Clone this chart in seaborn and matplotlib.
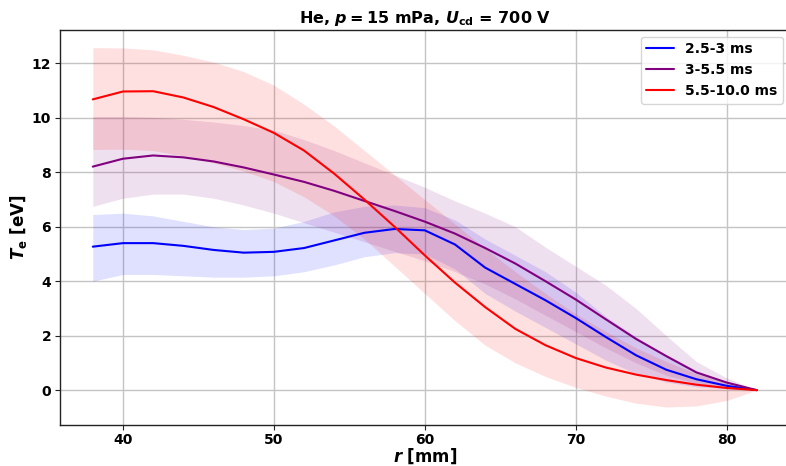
import numpy as np
import pandas as pd
import matplotlib
matplotlib.use("Agg")
import matplotlib.pyplot as plt
import seaborn as sns

r_mm = [38, 40, 42, 44, 46, 48, 50, 52, 54, 56, 58, 60, 62, 64, 66, 68, 70, 72, 74, 76, 78, 80, 82]

blue_mean = [5.27, 5.40, 5.40, 5.30, 5.15, 5.05, 5.08, 5.22, 5.50, 5.78, 5.92, 5.87, 5.35, 4.50, 3.90, 3.30, 2.65, 1.95, 1.28, 0.75, 0.40, 0.16, 0.0]
blue_upper = [6.45, 6.50, 6.40, 6.20, 6.00, 5.90, 5.95, 6.20, 6.55, 6.75, 6.80, 6.70, 6.25, 5.55, 4.95, 4.35, 3.60, 2.70, 1.95, 1.30, 0.72, 0.30, 0.0]
blue_lower = [4.00, 4.25, 4.25, 4.20, 4.15, 4.15, 4.20, 4.35, 4.60, 4.90, 5.05, 5.00, 4.45, 3.55, 2.90, 2.30, 1.70, 1.10, 0.60, 0.30, 0.12, 0.05, 0.0]

purple_mean = [8.21, 8.50, 8.62, 8.55, 8.40, 8.18, 7.92, 7.65, 7.32, 6.95, 6.58, 6.19, 5.75, 5.22, 4.65, 4.00, 3.33, 2.60, 1.88, 1.25, 0.65, 0.28, 0.0]
purple_upper = [10.05, 10.05, 10.02, 9.95, 9.85, 9.72, 9.55, 9.20, 8.80, 8.35, 7.90, 7.45, 6.95, 6.50, 6.00, 5.25, 4.55, 3.85, 3.00, 2.00, 1.05, 0.45, 0.0]
purple_lower = [6.75, 7.05, 7.20, 7.20, 7.05, 6.80, 6.50, 6.15, 5.80, 5.45, 5.10, 4.75, 4.35, 3.90, 3.35, 2.75, 2.15, 1.55, 1.00, 0.55, 0.25, 0.08, 0.0]

red_mean = [10.68, 10.97, 10.98, 10.75, 10.40, 9.95, 9.45, 8.80, 7.95, 7.00, 6.00, 4.95, 3.95, 3.05, 2.25, 1.65, 1.18, 0.83, 0.57, 0.37, 0.20, 0.08, 0.0]
red_upper = [12.58, 12.57, 12.50, 12.30, 12.05, 11.70, 11.20, 10.50, 9.70, 8.80, 7.90, 7.00, 6.10, 5.20, 4.35, 3.55, 2.80, 2.15, 1.55, 1.05, 0.60, 0.25, 0.0]
red_lower = [8.84, 8.85, 8.80, 8.60, 8.35, 8.05, 7.66, 7.10, 6.40, 5.55, 4.55, 3.55, 2.55, 1.65, 1.00, 0.50, 0.10, -0.22, -0.48, -0.62, -0.58, -0.38, 0.0]

labels = ["2.5-3 ms", "3-5.5 ms", "5.5-10.0 ms"]
colors = ["blue", "purple", "red"]

sns.set_style("ticks")
plt.rcParams["font.family"] = ["DejaVu Sans"]
plt.rcParams["font.weight"] = "bold"
plt.rcParams["text.color"] = "black"
plt.rcParams["axes.labelcolor"] = "black"
plt.rcParams["xtick.color"] = "black"
plt.rcParams["ytick.color"] = "black"
plt.rcParams["mathtext.fontset"] = "custom"
plt.rcParams["mathtext.rm"] = "DejaVu Sans:bold"
plt.rcParams["mathtext.it"] = "DejaVu Sans:italic:bold"
plt.rcParams["mathtext.bf"] = "DejaVu Sans:bold"

frames = []
for lab, m in zip(labels, [blue_mean, purple_mean, red_mean]):
    frames.append(pd.DataFrame({"r": r_mm, "Te": m, "window": lab}))
df = pd.concat(frames, ignore_index=True)

fig = plt.figure(figsize=(7.86, 4.66), dpi=100)
ax = fig.add_axes([0.0758, 0.0880, 0.9293, 0.8483])

bands = [(blue_lower, blue_upper), (purple_lower, purple_upper), (red_lower, red_upper)]
for (lo, hi), c in zip(bands, colors):
    ax.fill_between(r_mm, lo, hi, color=c, alpha=0.12, linewidth=0)

sns.lineplot(data=df, x="r", y="Te", hue="window", palette=dict(zip(labels, colors)),
             linewidth=1.5, ax=ax)

ax.grid(True, color="#c4c4c4", linewidth=1.0)
ax.set_axisbelow(True)
ax.margins(x=0.05, y=0.05)
ax.set_yticks([0, 2, 4, 6, 8, 10, 12])
ax.set_xticks([40, 50, 60, 70, 80])
for s in ax.spines.values():
    s.set_color("#222222")
    s.set_linewidth(1.0)
ax.tick_params(axis="both", labelsize=10, length=3.5, width=0.8, direction="out",
               color="#222222", bottom=True, left=True, pad=2.5)
ax.tick_params(axis="x", pad=2)
for t in ax.get_xticklabels() + ax.get_yticklabels():
    t.set_fontweight("bold")

ax.set_xlabel(r"$r$ [mm]", fontsize=12, fontweight="bold", labelpad=0)
ax.set_ylabel(r"$T_{\rm e}$ [eV]", fontsize=12, fontweight="bold", labelpad=2)
ax.set_title(r"He, $p = 15$ mPa, $U_{\rm cd}$ = 700 V", fontsize=11.5, fontweight="bold", pad=5)

leg = ax.legend(loc="upper right", fontsize=10, frameon=True)
leg.set_title(None)
for t in leg.get_texts():
    t.set_fontweight("bold")

fig.savefig("out.png", dpi=100)
